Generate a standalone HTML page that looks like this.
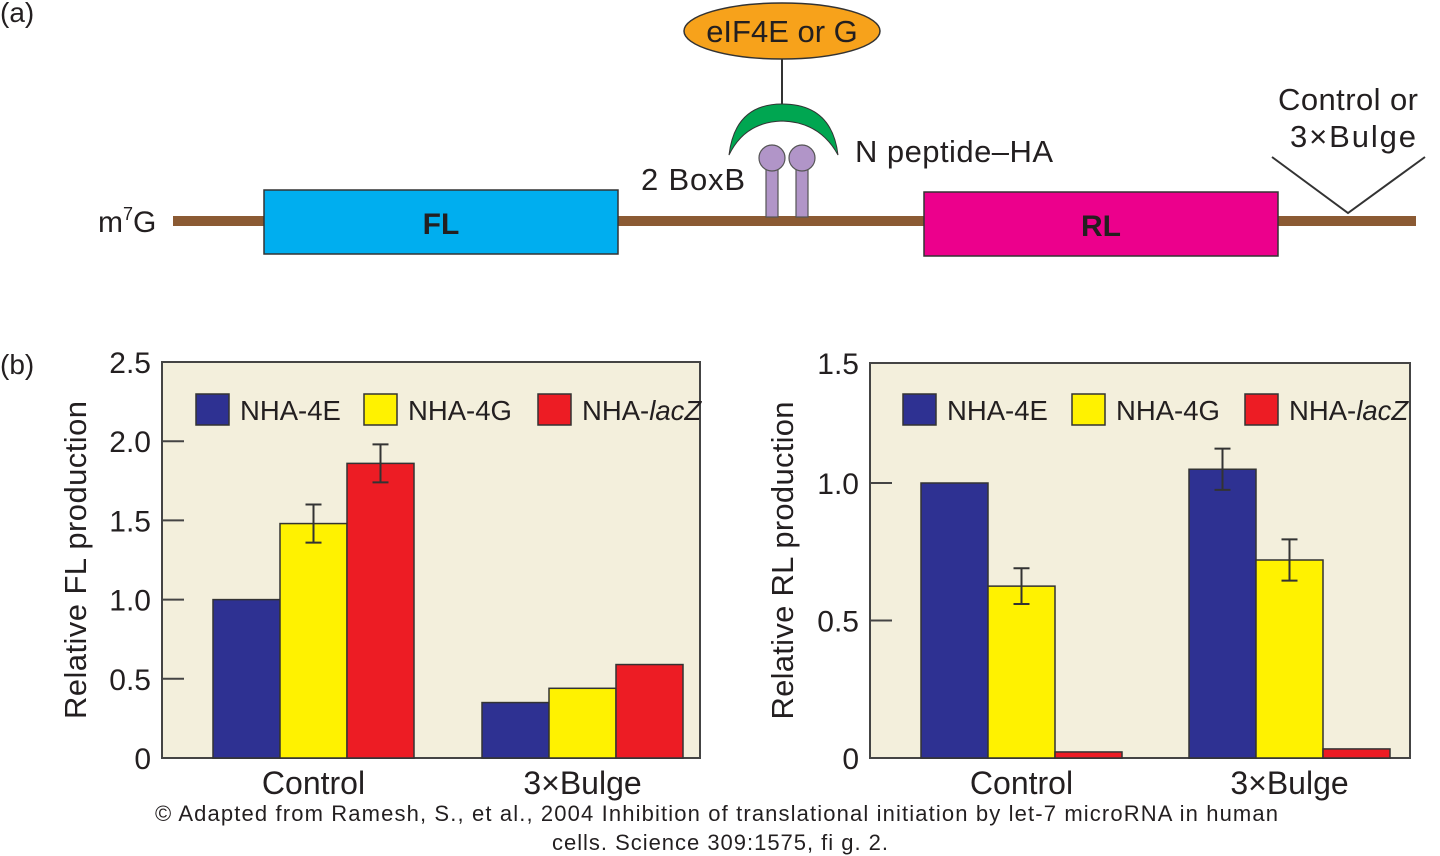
<!DOCTYPE html>
<html><head><meta charset="utf-8"><style>
body{margin:0;background:#fff;}
svg{display:block;font-family:"Liberation Sans",sans-serif;}
</style></head><body>
<svg id="s" width="1440" height="856" viewBox="0 0 1440 856">
<g fill="#231f20">
<text x="0" y="22" font-size="28">(a)</text>
<rect x="173" y="216" width="1243" height="10" fill="#8b5a33"/>
<text x="98" y="232" font-size="30">m<tspan font-size="18" dy="-12">7</tspan><tspan dy="12">G</tspan></text>
<rect x="264" y="190" width="354" height="64" fill="#00aeef" stroke="#333" stroke-width="1.5"/>
<text x="441" y="234" font-size="30" font-weight="bold" text-anchor="middle">FL</text>
<rect x="924" y="192" width="354" height="64" fill="#ec008c" stroke="#333" stroke-width="1.5"/>
<text x="1101" y="236" font-size="30" font-weight="bold" text-anchor="middle">RL</text>
<ellipse cx="782" cy="31" rx="98" ry="28" fill="#f7a21b" stroke="#333" stroke-width="1.5"/>
<text x="782" y="42" font-size="31" text-anchor="middle">eIF4E or G</text>
<line x1="782" y1="59" x2="782" y2="104" stroke="#333" stroke-width="2"/>
<path d="M729,155 Q735,104 782,104 Q832,104 838,155 Q820,122 782,121 Q745,122 729,155Z" fill="#00a651" stroke="#333" stroke-width="1"/>
<g fill="#b195c8" stroke="#555" stroke-width="1.2">
<rect x="766" y="160" width="12" height="57"/><rect x="796" y="160" width="12" height="57"/>
<circle cx="772" cy="158" r="13"/><circle cx="802" cy="158" r="13"/></g>
<text x="641" y="190" font-size="31" textLength="104">2 BoxB</text>
<text x="855" y="162" font-size="31" textLength="198">N peptide–HA</text>
<text x="1278" y="110" font-size="31" textLength="140">Control or</text>
<text x="1290" y="147" font-size="31" textLength="126">3×Bulge</text>
<polyline points="1272,157 1348,213 1425,157" fill="none" stroke="#333" stroke-width="2"/>
<text x="0" y="374" font-size="28">(b)</text>
</g>
<g id="charts"></g>
<text x="155" y="821" font-size="22" fill="#231f20" textLength="1123">©  Adapted from Ramesh, S., et al., 2004 Inhibition of translational initiation by let-7 microRNA in human</text>
<text x="552" y="850" font-size="22" fill="#231f20" textLength="336">cells. Science 309:1575, fi g. 2.</text>
</svg>
<script>
const categories=["Control","3×Bulge"];
const seriesNames=["NHA-4E","NHA-4G","NHA-lacZ"];
const flValues=[[1.0,0.35],[1.48,0.44],[1.86,0.59]];
const flErrors=[[0,0],[0.12,0],[0.12,0]];
const rlValues=[[1.0,1.05],[0.625,0.72],[0.022,0.033]];
const rlErrors=[[0,0.075],[0.065,0.075],[0,0]];
const flTicks=[0,0.5,1.0,1.5,2.0,2.5];
const flTickLabels=["0","0.5","1.0","1.5","2.0","2.5"];
const rlTicks=[0,0.5,1.0,1.5];
const rlTickLabels=["0","0.5","1.0","1.5"];
const colors=["#2e3192","#fff200","#ed1c24"];
const NS="http://www.w3.org/2000/svg";
const root=document.getElementById('charts');
function mk(tag,attrs,parent,text){const e=document.createElementNS(NS,tag);for(const k in attrs)e.setAttribute(k,attrs[k]);if(text!==undefined)e.textContent=text;parent.appendChild(e);return e;}
function chart(cfg){
 const g=mk('g',{},root);
 
 
 const y=v=>cfg.y0-v*cfg.ppu;
 const bg=mk('rect',{x:cfg.left,y:cfg.top,width:cfg.right-cfg.left,height:cfg.y0-cfg.top,fill:'#f3efdc',stroke:'#444','stroke-width':2},g);
 
 
 cfg.ticks.forEach((t,i)=>{
  const yy=Math.max(y(t),cfg.top);
  if(yy>cfg.top+2&&t>0){const l=mk('line',{x1:cfg.left,x2:cfg.left+22,y1:yy,y2:yy,stroke:'#444','stroke-width':2},g);
  
  }
  const tx=mk('text',{x:cfg.left-11,y:yy+11,'font-size':30,'text-anchor':'end',fill:'#231f20'},g,cfg.tickLabels[i]);
  
  
 });
 const cy=(cfg.top+cfg.y0)/2+0;
 const at=mk('text',{x:cfg.titleX,y:cy,'font-size':31,'text-anchor':'middle',textLength:318,fill:'#231f20',transform:`rotate(-90 ${cfg.titleX} ${cy})`},g,cfg.title);
 
 
 const bw=67;
 categories.forEach((c,ci)=>{
  const gx=cfg.groupX[ci];
  cfg.values.forEach((sv,si)=>{
   const x=gx+si*bw, v=sv[ci];
   const r=mk('rect',{x:x,y:y(v),width:bw,height:cfg.y0-y(v),fill:colors[si],stroke:'#333','stroke-width':1.5},g);
   
   
   const e=cfg.errors[si][ci];
   if(e>0){const cx=x+bw/2;
    const p=mk('path',{d:`M${cx},${y(v+e)}V${y(v-e)}M${cx-8},${y(v+e)}H${cx+8}M${cx-8},${y(v-e)}H${cx+8}`,stroke:'#333','stroke-width':2,fill:'none'},g);
    
    }
  });
  const xl=mk('text',{x:gx+bw*1.5,y:cfg.y0+36,'font-size':32,'text-anchor':'middle',fill:'#231f20'},g,c);
  
  
 });
 seriesNames.forEach((n,si)=>{
  const lx=cfg.legendX[si];
  const lg=mk('g',{},g);
  
  
  mk('rect',{x:lx,y:394,width:33,height:31,fill:colors[si],stroke:'#333','stroke-width':1.5},lg);
  const t=mk('text',{x:lx+44,y:420,'font-size':27.5,fill:'#231f20'},lg);
  if(si===2){mk('tspan',{},t,'NHA-');mk('tspan',{'font-style':'italic'},t,'lacZ');}else t.textContent=n;
 });
}
chart({name:'fl-chart',left:162,right:700,top:362,y0:758,ppu:158.4,ticks:flTicks,tickLabels:flTickLabels,values:flValues,errors:flErrors,groupX:[213,482],legendX:[196,364,538],title:'Relative FL production',titleX:86});
chart({name:'rl-chart',left:870,right:1410,top:363,y0:758,ppu:275,ticks:rlTicks,tickLabels:rlTickLabels,values:rlValues,errors:rlErrors,groupX:[921,1189],legendX:[903,1072,1245],title:'Relative RL production',titleX:793});
</script>
</body></html>
